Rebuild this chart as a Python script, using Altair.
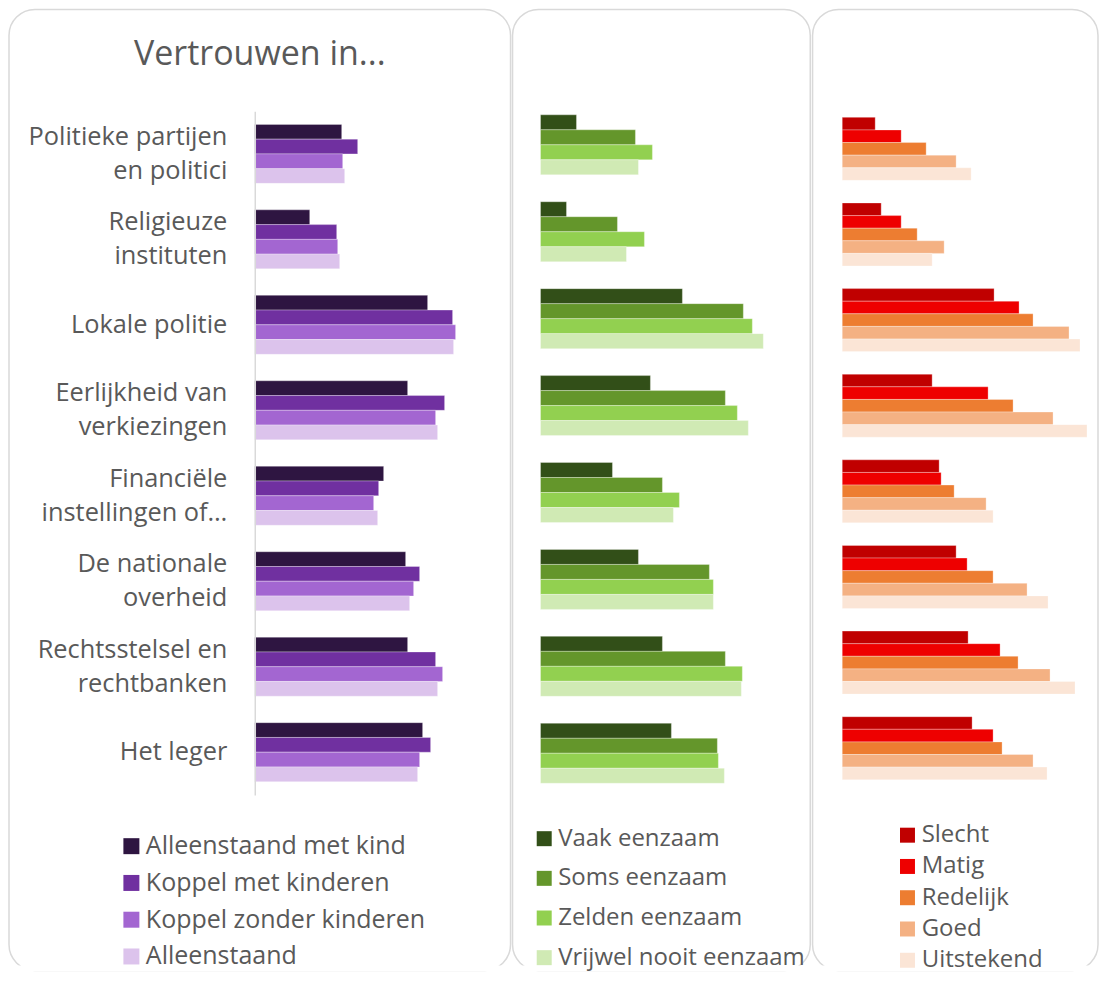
import altair as alt
import pandas as pd

# ---------------- data ----------------
categories = [
    "Politieke partijen|en politici",
    "Religieuze|instituten",
    "Lokale politie",
    "Eerlijkheid van|verkiezingen",
    "Financiële|instellingen of…",
    "De nationale|overheid",
    "Rechtsstelsel en|rechtbanken",
    "Het leger",
]

# Panel 1: household type
hh_series = ["Alleenstaand met kind", "Koppel met kinderen", "Koppel zonder kinderen", "Alleenstaand"]
hh_colors = ["#2e1541", "#7030a0", "#a366d1", "#dcc3ec"]
alleenstaand_met_kind = [87, 55, 173, 153, 129, 151, 153, 168]
koppel_met_kinderen = [103, 82, 198, 190, 124, 165, 181, 176]
koppel_zonder_kinderen = [88, 83, 201, 181, 119, 159, 188, 165]
alleenstaand = [90, 85, 199, 183, 123, 155, 183, 163]

# Panel 2: loneliness
lon_series = ["Vaak eenzaam", "Soms eenzaam", "Zelden eenzaam", "Vrijwel nooit eenzaam"]
lon_colors = ["#324f18", "#64962b", "#92d050", "#d0eab4"]
vaak_eenzaam = [36, 26, 142, 110, 72, 98, 122, 131]
soms_eenzaam = [95, 77, 203, 185, 122, 169, 185, 177]
zelden_eenzaam = [112, 104, 212, 197, 139, 173, 202, 178]
vrijwel_nooit_eenzaam = [98, 86, 223, 208, 133, 173, 201, 184]

# Panel 3: health
hl_series = ["Slecht", "Matig", "Redelijk", "Goed", "Uitstekend"]
hl_colors = ["#c00000", "#ee0000", "#ed7d31", "#f4b183", "#fbe5d6"]
slecht = [33, 39, 152, 90, 97, 114, 126, 130]
matig = [59, 59, 177, 146, 99, 125, 158, 151]
redelijk = [84, 75, 191, 171, 112, 151, 176, 160]
goed = [114, 102, 227, 211, 144, 185, 208, 191]
uitstekend = [129, 90, 238, 245, 151, 206, 233, 205]

TITLE = "Vertrouwen in..."
TEXT = "#595959"
FONT = "Open Sans"


def long_df(series, values_list):
    rows = []
    for s, vals in zip(series, values_list):
        for c, v in zip(categories, vals):
            rows.append({"cat": c, "series": s, "value": v})
    return pd.DataFrame(rows)


df1 = long_df(hh_series, [alleenstaand_met_kind, koppel_met_kinderen, koppel_zonder_kinderen, alleenstaand])
df2 = long_df(lon_series, [vaak_eenzaam, soms_eenzaam, zelden_eenzaam, vrijwel_nooit_eenzaam])
df3 = long_df(hl_series, [slecht, matig, redelijk, goed, uitstekend])
one = pd.DataFrame({"k": [0]})

PLOT_H = 700
BOX_TOP = -92
BOX_BOTTOM = 870


def make_panel(df, series, colors, width, yrange, pad, box, leg, with_axis, extra=None):
    box_layer = alt.Chart(one).mark_rect(
        fill="white", fillOpacity=0, stroke="#d9d9d9", strokeWidth=1.5, cornerRadius=26
    ).encode(x=alt.value(box[0]), x2=alt.value(box[1]), y=alt.value(BOX_TOP), y2=alt.value(BOX_BOTTOM))
    # the original panels run off the bottom of the picture: hide the closing edge
    cut_layer = alt.Chart(one).mark_rect(fill="white", strokeWidth=0).encode(
        x=alt.value(box[0] - 1), x2=alt.value(box[1] + 1),
        y=alt.value(BOX_BOTTOM - 5), y2=alt.value(BOX_BOTTOM + 0.8))

    if with_axis:
        yaxis = alt.Axis(
            title=None, ticks=False, domain=True, domainColor="#d9d9d9", domainWidth=1.5,
            labelPadding=28, labelFontSize=25.4, labelColor=TEXT, labelFont=FONT,
            labelAlign="right", labelBaseline="middle", labelLineHeight=34, labelLimit=400,
            labelExpr="split(datum.label, '|')", zindex=1,
            labelOffset={"condition": {"test": "indexof(datum.label, '|') >= 0", "value": -17}, "value": 0},
        )
    else:
        yaxis = None

    bars = alt.Chart(df).mark_bar(stroke="white", strokeWidth=0.6, strokeOpacity=0.5).encode(
        x=alt.X("value:Q", axis=None, scale=alt.Scale(domain=[0, width], nice=False, zero=True)),
        y=alt.Y("cat:N", sort=categories, axis=yaxis,
                scale=alt.Scale(range=yrange, paddingInner=pad, paddingOuter=pad / 2)),
        yOffset=alt.YOffset("series:N", sort=series),
        color=alt.Color(
            "series:N", sort=series,
            scale=alt.Scale(domain=series, range=colors),
            legend=alt.Legend(
                title=None, orient="none", legendX=leg[0], legendY=leg[1], direction="vertical",
                symbolType="square", symbolSize=leg[3], symbolStrokeWidth=0,
                labelFontSize=leg[5], labelFont=FONT, labelColor=TEXT, labelOffset=leg[4],
                rowPadding=leg[2], padding=0, labelLimit=400,
            ),
        ),
    )
    layers = [box_layer, cut_layer, bars]
    if extra is not None:
        layers.append(extra)
    return alt.layer(*layers).properties(width=width, height=PLOT_H)


title_layer = alt.Chart(one).mark_text(
    text=TITLE, fontSize=34, font=FONT, color=TEXT, align="center", baseline="middle"
).encode(x=alt.value(5), y=alt.value(-46.5))

p1 = make_panel(df1, hh_series, hh_colors, 240, [9.8, 694.2], 0.31,
                box=(-246, 256), leg=(-136, 733, 10.8, 256, 2, 25),
                with_axis=True, extra=title_layer)
p2 = make_panel(df2, lon_series, lon_colors, 250, [0, 696], 0.31,
                box=(-28, 270), leg=(-8.3, 726, 15.7, 225, 2, 24),
                with_axis=False)
p3 = make_panel(df3, hl_series, hl_colors, 250, [4.7, 690.3], 0.264,
                box=(-29.7, 256), leg=(53.3, 722.5, 7.3, 225, 2.2, 24),
                with_axis=False)

chart = (
    alt.hconcat(p1, p2, p3, spacing=0, padding=0)
    .resolve_scale(color="independent", x="independent", y="independent", yOffset="independent")
    .configure_view(strokeWidth=0)
)

chart.save("out.html", embed_options={"renderer": "svg", "actions": False})
